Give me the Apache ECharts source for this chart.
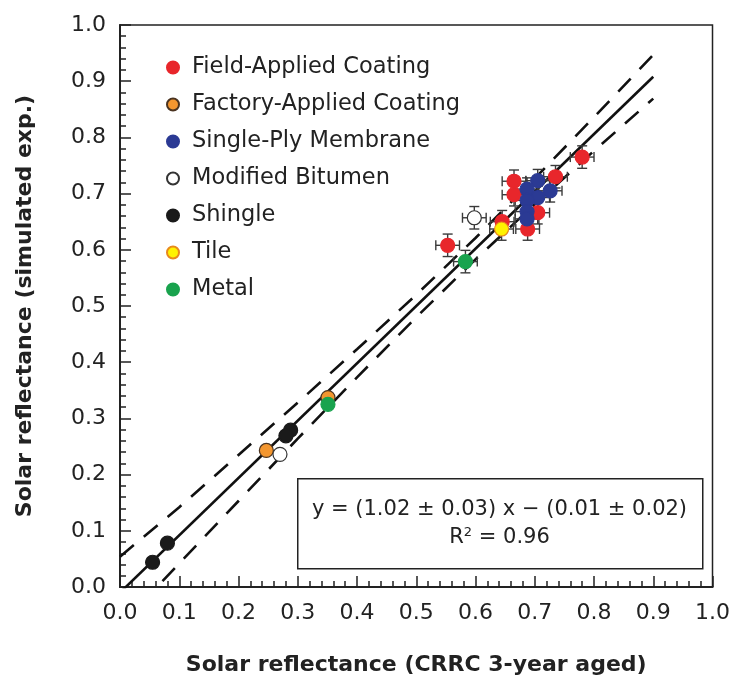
<!DOCTYPE html>
<html>
<head>
<meta charset="utf-8">
<script src="https://cdn.jsdelivr.net/npm/echarts@6/dist/echarts.min.js"></script>
<style>
  html, body { margin: 0; padding: 0; background: #fff; }
  #chart { width: 733px; height: 681px; }
</style>
</head>
<body>
<div id="chart"></div>
<script>
// each point: [CRRC aged, simulated, x error, y error]
const fieldApplied = [
  [0.780, 0.765, 0.02, 0.02], [0.735, 0.730, 0.02, 0.02], [0.665, 0.722, 0.02, 0.02],
  [0.665, 0.698, 0.02, 0.02], [0.705, 0.666, 0.02, 0.02], [0.645, 0.650, 0.02, 0.02],
  [0.688, 0.637, 0.02, 0.02], [0.553, 0.608, 0.02, 0.02]
];
const factoryApplied = [[0.351, 0.337, 0, 0], [0.247, 0.243, 0, 0]];
const singlePly = [
  [0.705, 0.723, 0.02, 0.02], [0.687, 0.708, 0.02, 0.02], [0.726, 0.705, 0.02, 0.02],
  [0.705, 0.693, 0.02, 0.02], [0.687, 0.688, 0.02, 0.02], [0.687, 0.668, 0.02, 0.02],
  [0.687, 0.655, 0.02, 0.02]
];
const modBitumen = [[0.598, 0.657, 0.02, 0.02], [0.270, 0.236, 0, 0]];
const shingle = [[0.288, 0.279, 0, 0], [0.280, 0.269, 0, 0], [0.080, 0.078, 0, 0], [0.055, 0.044, 0, 0]];
const tile = [[0.644, 0.637, 0.02, 0.02]];
const metal = [[0.583, 0.579, 0.02, 0.02], [0.351, 0.325, 0, 0]];

// fit line and dashed band
const fitLine = [[0.0, -0.010], [0.9, 0.908]];
const bandX = [0.0, 0.1, 0.2, 0.3, 0.4, 0.5, 0.6, 0.7, 0.8, 0.9];
const bandUpper = [0.054, 0.142, 0.235, 0.328, 0.423, 0.520, 0.621, 0.727, 0.836, 0.947];
const bandLower = [-0.070, 0.042, 0.153, 0.264, 0.373, 0.480, 0.583, 0.681, 0.776, 0.869];

const groups = [
  { name: 'Field-Applied Coating', data: fieldApplied, color: '#e8262b', border: '#e8262b' },
  { name: 'Factory-Applied Coating', data: factoryApplied, color: '#f3962f', border: '#4a3320' },
  { name: 'Single-Ply Membrane', data: singlePly, color: '#2b3a94', border: '#2b3a94' },
  { name: 'Modified Bitumen', data: modBitumen, color: '#ffffff', border: '#333333' },
  { name: 'Shingle', data: shingle, color: '#1a1a1a', border: '#1a1a1a' },
  { name: 'Tile', data: tile, color: '#fff200', border: '#e8891c' },
  { name: 'Metal', data: metal, color: '#19a34e', border: '#19a34e' }
];

const FONT = 'DejaVu Sans';

function renderErr(params, api) {
  const x = api.value(0), y = api.value(1), ex = api.value(2), ey = api.value(3);
  if (!ex && !ey) return { type: 'group', children: [] };
  const c = api.coord([x, y]);
  const l = api.coord([x - ex, y])[0], r = api.coord([x + ex, y])[0];
  const t = api.coord([x, y + ey])[1], b = api.coord([x, y - ey])[1];
  const cap = 5;
  const style = { stroke: '#3a3a3a', lineWidth: 1.4 };
  const seg = (x1, y1, x2, y2) => ({ type: 'line', shape: { x1, y1, x2, y2 }, style });
  return {
    type: 'group',
    children: [
      seg(l, c[1], r, c[1]), seg(l, c[1] - cap, l, c[1] + cap), seg(r, c[1] - cap, r, c[1] + cap),
      seg(c[0], t, c[0], b), seg(c[0] - cap, t, c[0] + cap, t), seg(c[0] - cap, b, c[0] + cap, b)
    ]
  };
}

const series = [
  {
    type: 'line', data: bandX.map((x, i) => [x, bandUpper[i]]), showSymbol: false, silent: true,
    lineStyle: { color: '#111', width: 2.6, type: [18, 13] }, z: 2
  },
  {
    type: 'line', data: bandX.map((x, i) => [x, bandLower[i]]), showSymbol: false, silent: true,
    lineStyle: { color: '#111', width: 2.6, type: [18, 13] }, z: 2
  },
  {
    type: 'line', data: fitLine, showSymbol: false, silent: true,
    lineStyle: { color: '#111', width: 2.6 }, z: 2
  }
];

groups.forEach(g => {
  series.push({
    type: 'custom', renderItem: renderErr, data: g.data,
    encode: { x: 0, y: 1 }, silent: true, z: 3
  });
});
groups.forEach(g => {
  series.push({
    name: g.name, type: 'scatter', symbol: 'circle', symbolSize: 14,
    data: g.data.map(p => [p[0], p[1]]),
    itemStyle: { color: g.color, borderColor: g.border, borderWidth: 1.2, opacity: 1 },
    z: 4
  });
});

const chart = echarts.init(document.getElementById('chart'));
chart.setOption({
  animation: false,
  backgroundColor: '#fff',
  grid: { left: 120, right: 20, top: 25, bottom: 85, show: true, borderColor: '#222', borderWidth: 1.5 },
  legend: {
    orient: 'vertical', left: 161, top: 51, itemGap: 14,
    itemWidth: 12, itemHeight: 12, icon: 'circle',
    data: groups.map(g => g.name),
    textStyle: { fontFamily: FONT, fontSize: 22.5, lineHeight: 20, color: '#222', padding: [0, 0, 0, 8] }
  },
  xAxis: {
    type: 'value', min: 0, max: 1, interval: 0.1,
    name: 'Solar reflectance (CRRC 3-year aged)', nameLocation: 'middle', nameGap: 67,
    nameTextStyle: { fontFamily: FONT, fontSize: 22, fontWeight: 'bold', color: '#222' },
    axisLine: { lineStyle: { color: '#222', width: 2 } },
    axisTick: { inside: true, length: 11, lineStyle: { color: '#222', width: 1.5 } },
    minorTick: { show: true, splitNumber: 5, length: 6, lineStyle: { color: '#222', width: 1.5 } },
    axisLabel: { fontFamily: FONT, fontSize: 22, color: '#222', margin: 15, formatter: v => v.toFixed(1) },
    splitLine: { show: false }
  },
  yAxis: {
    type: 'value', min: 0, max: 1, interval: 0.1,
    name: 'Solar reflectance (simulated exp.)', nameLocation: 'middle', nameGap: 84,
    nameTextStyle: { fontFamily: FONT, fontSize: 22, fontWeight: 'bold', color: '#222' },
    axisLine: { lineStyle: { color: '#222', width: 2 } },
    axisTick: { inside: true, length: 11, lineStyle: { color: '#222', width: 1.5 } },
    minorTick: { show: true, splitNumber: 5, length: 6, lineStyle: { color: '#222', width: 1.5 } },
    axisLabel: { fontFamily: FONT, fontSize: 22, color: '#222', margin: 14, formatter: v => v.toFixed(1) },
    splitLine: { show: false }
  },
  graphic: [
    {
      type: 'rect', left: 297, top: 478, z: 10,
      shape: { width: 405, height: 90 },
      style: { fill: '#fff', stroke: '#222', lineWidth: 1.5 }
    },
    {
      type: 'text', x: 499.5, y: 510, z: 11,
      style: {
        text: 'y = (1.02 ± 0.03) x \u2212 (0.01 ± 0.02)', align: 'center', verticalAlign: 'middle',
        font: '21px "DejaVu Sans"', fill: '#222'
      }
    },
    {
      type: 'text', x: 499.5, y: 538, z: 11,
      style: {
        text: 'R{sup|2} = 0.96', align: 'center', verticalAlign: 'middle',
        font: '21px "DejaVu Sans"', fill: '#222',
        rich: { sup: { fontSize: 13, fontFamily: FONT, verticalAlign: 'top', padding: [0, 0, 10, 0] } }
      }
    }
  ],
  series
});
</script>
</body>
</html>
